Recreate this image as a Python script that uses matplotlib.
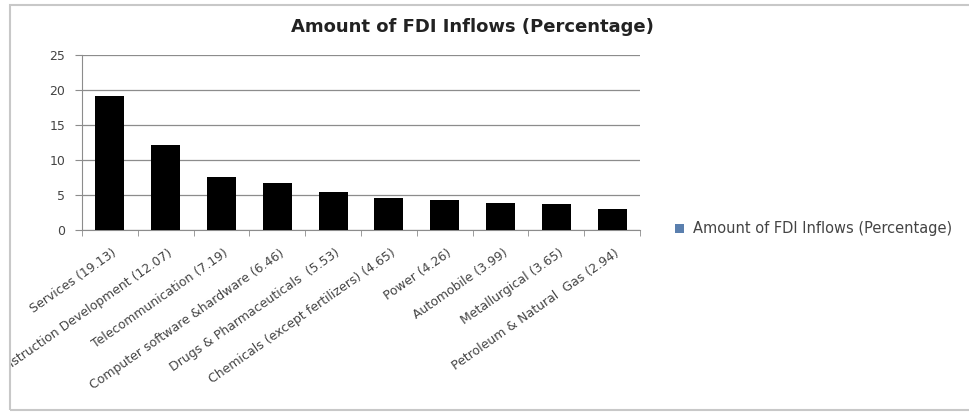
import matplotlib
matplotlib.use("Agg")
import matplotlib.pyplot as plt
from matplotlib.patches import Rectangle, Patch
from matplotlib.transforms import Bbox, TransformedBbox, ScaledTranslation

categories = ["Services (19.13)", "Construction Development (12.07)", "Telecommunication (7.19)",
              "Computer software &hardware (6.46)", "Drugs & Pharmaceuticals  (5.53)",
              "Chemicals (except fertilizers) (4.65)", "Power (4.26)", "Automobile (3.99)",
              "Metallurgical (3.65)", "Petroleum & Natural  Gas (2.94)"]
values = [19.13, 12.2, 7.55, 6.7, 5.5, 4.6, 4.25, 3.9, 3.7, 3.0]
yticks = [0, 5, 10, 15, 20, 25]
title = "Amount of FDI Inflows (Percentage)"

plt.rcParams['font.family'] = ['DejaVu Sans']
W, H = 969, 412
fig = plt.figure(figsize=(W / 100, H / 100), dpi=100)
fig.patch.set_facecolor("white")

ax = fig.add_axes([82 / W, 1 - 230 / H, (640 - 82) / W, (230 - 55) / H])
x = list(range(len(categories)))
ax.bar(x, values, width=0.52, color="black", zorder=3)
ax.set_xlim(-0.5, len(categories) - 0.5)
ax.set_ylim(0, 25)
ax.set_yticks(yticks)
ax.yaxis.grid(True, color="#8c8c8c", linewidth=0.9, zorder=0)
for s in ["top", "right"]:
    ax.spines[s].set_visible(False)
ax.spines["left"].set_color("#8c8c8c")
ax.spines["bottom"].set_color("#8c8c8c")
ax.tick_params(axis="y", length=5, color="#8c8c8c", labelsize=9, pad=7, labelcolor="#444444")
ax.set_xticks([i + 0.5 for i in x[:-1]] + [-0.5, len(categories) - 0.5], minor=True)
ax.tick_params(axis="x", which="minor", length=4, color="#8c8c8c")
ax.set_xticks(x)
ax.set_xticklabels(categories, rotation=35, ha="right", rotation_mode="anchor",
                   fontsize=9, color="#444444")
ax.tick_params(axis="x", which="major", length=0, pad=12)
shift = ScaledTranslation(2 / 100, 0, fig.dpi_scale_trans)
for lab in ax.get_xticklabels():
    lab.set_transform(lab.get_transform() + shift)

fig.text(472 / W, 1 - 27 / H, title, ha="center", va="center", fontsize=13,
         fontweight="bold", color="#222222")

handle = Patch(facecolor="#5a7fae", edgecolor="none")
fig.legend([handle], [title], loc="center left", bbox_to_anchor=(662 / W, 1 - 229 / H),
           frameon=False, fontsize=10.5, handlelength=0.6, handleheight=0.6,
           handletextpad=0.6, labelcolor="#444444")

# outer chart border
border = Rectangle((10 / W, 1 - 410 / H), 1.0, (410 - 5) / H, transform=fig.transFigure,
                   fill=False, edgecolor="#c8c8c8", linewidth=1.5)
fig.add_artist(border)
clip = TransformedBbox(Bbox([[11 / W, 0], [1, 1]]), fig.transFigure)
for lab in ax.get_xticklabels():
    lab.set_clip_on(True)
    lab.set_clip_box(clip)

fig.savefig("out.png", dpi=100, facecolor="white")
